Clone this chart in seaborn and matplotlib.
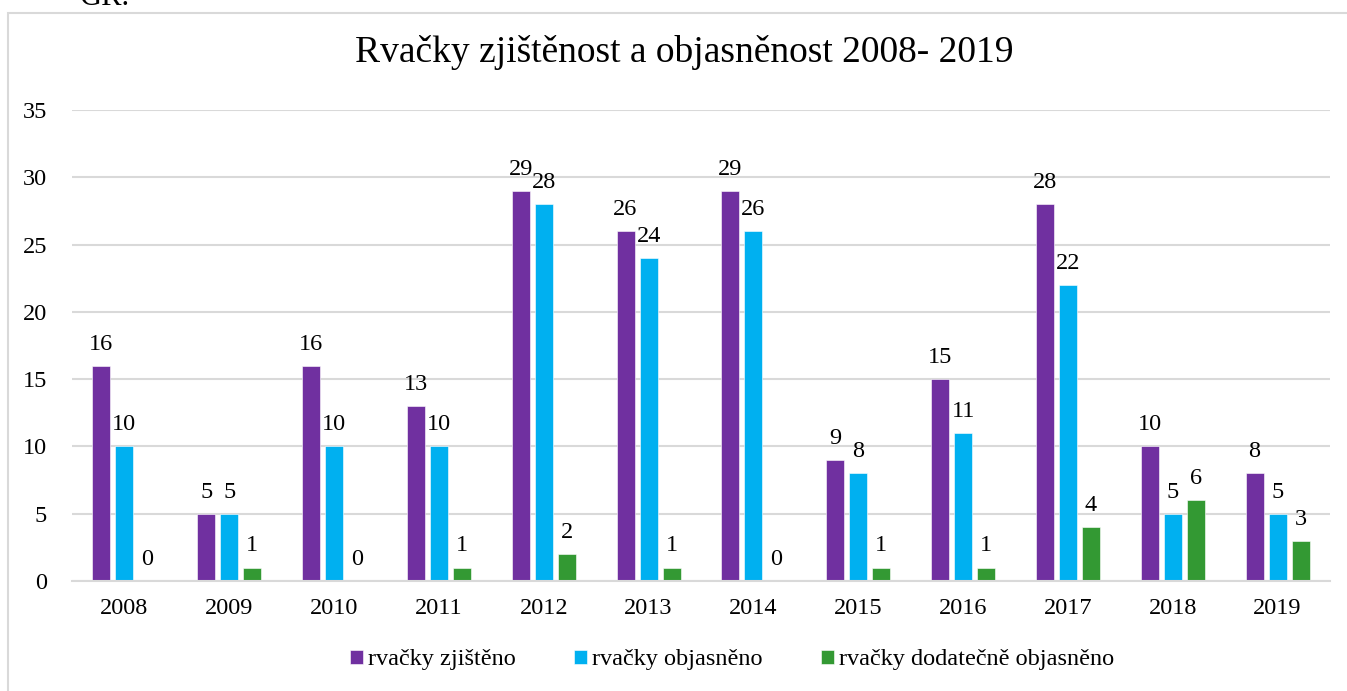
import numpy as np
import pandas as pd
import matplotlib.pyplot as plt
import seaborn as sns
from matplotlib.patches import Rectangle

# Data
years = ['2008', '2009', '2010', '2011', '2012', '2013', '2014', '2015', '2016', '2017', '2018', '2019']
zjisteno = [16, 5, 16, 13, 29, 26, 29, 9, 15, 28, 10, 8]
objasneno = [10, 5, 10, 10, 28, 24, 26, 8, 11, 22, 5, 5]
dodatecne = [0, 1, 0, 1, 2, 1, 0, 1, 1, 4, 6, 3]
series_names = ['rvačky zjištěno', 'rvačky objasněno', 'rvačky dodatečně objasněno']
colors = ['#7030A0', '#00B0F0', '#339933']

# Long format for seaborn
df = pd.DataFrame({
    'rok': years * 3,
    'pocet': zjisteno + objasneno + dodatecne,
    'serie': [series_names[0]] * 12 + [series_names[1]] * 12 + [series_names[2]] * 12,
})

sns.set_style('white')
plt.rcParams['font.family'] = ['Liberation Serif', 'DejaVu Serif']
plt.rcParams['text.color'] = 'black'
plt.rcParams['xtick.color'] = 'black'
plt.rcParams['ytick.color'] = 'black'

fig = plt.figure(figsize=(13.47, 6.91), dpi=100)
ax = fig.add_axes([72 / 1347, 1 - 581 / 691, (1330 - 72) / 1347, 471 / 691])

sns.barplot(data=df, x='rok', y='pocet', hue='serie', hue_order=series_names,
            palette=colors, width=0.66, gap=0.22, saturation=1, ax=ax,
            edgecolor='white', linewidth=0.4)

# Value labels above bars
for cont in ax.containers:
    ax.bar_label(cont, padding=8, fontsize=17.5, color='black')

ax.set_ylim(0, 35)
ax.set_yticks(np.arange(0, 36, 5))
ax.set_xlim(-0.5, 11.5)
ax.yaxis.grid(True, color='#D9D9D9', linewidth=1.5)
ax.set_axisbelow(True)
for s in ['top', 'right', 'left']:
    ax.spines[s].set_visible(False)
ax.spines['bottom'].set_color('#D9D9D9')
ax.spines['bottom'].set_linewidth(1.5)
ax.tick_params(axis='both', length=0, labelsize=17.5, labelcolor='black')
ax.tick_params(axis='y', pad=18)
ax.tick_params(axis='x', pad=12)
ax.set_xlabel('')
ax.set_ylabel('')

# Legend at the bottom
leg = ax.legend(loc='center', bbox_to_anchor=(732 / 1347, 1 - 660 / 691),
                bbox_transform=fig.transFigure, ncol=3, frameon=False, fontsize=17.5,
                handlelength=0.55, handleheight=0.55, handletextpad=0.2, columnspacing=2.4)
for t in leg.get_texts():
    t.set_color('black')

# Title
fig.text(684 / 1347, 1 - 53 / 691, 'Rvačky zjištěnost a objasněnost 2008- 2019',
         ha='center', va='center', fontsize=27, color='black')

# Chart frame (cropped on the right/bottom) and clipped text above it
fig.patches.append(Rectangle((8 / 1347, -0.1), 1.2, 0.1 + (1 - 13 / 691),
                             transform=fig.transFigure, fill=False,
                             edgecolor='#D9D9D9', linewidth=1.5))
fig.text(80 / 1347, 1 - 5 / 691, 'GR.', ha='left', va='baseline', fontsize=22, color='black')

fig.savefig('out.png', dpi=100)
